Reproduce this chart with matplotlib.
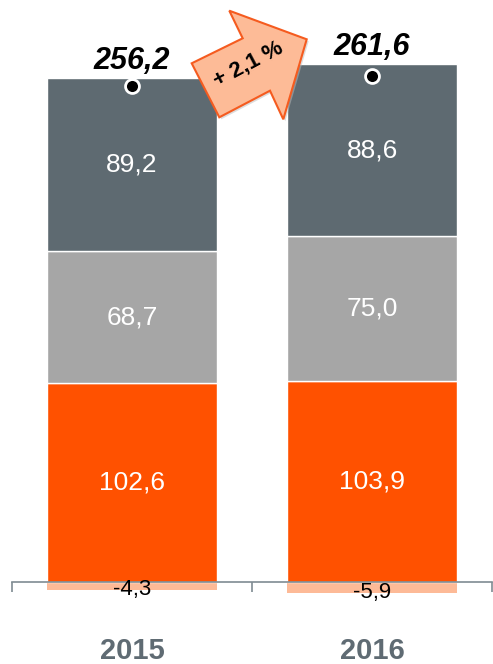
import matplotlib
matplotlib.use("Agg")
import matplotlib.pyplot as plt
from matplotlib.patches import Polygon
import numpy as np

years = ["2015", "2016"]
orange_vals = [102.6, 103.9]
lightgray_vals = [68.7, 75.0]
darkgray_vals = [89.2, 88.6]
negative_vals = [-4.3, -5.9]
totals = [256.2, 261.6]
growth_label = "+ 2,1 %"

C_DARK = "#5E6A71"
C_LIGHT = "#A6A6A6"
C_ORANGE = "#FF5100"
C_NEG = "#FDBA97"
C_AXIS = "#7F8B92"
C_YEAR = "#5F6B73"

plt.rcParams['font.family'] = ['Liberation Sans', 'DejaVu Sans']

W, H = 493, 664
fig = plt.figure(figsize=(W / 100, H / 100), dpi=100)
ax = fig.add_axes([12 / W, 0, 480 / W, 1])
scale = 1.935
ax.set_ylim(-(H - 582) / scale, 582 / scale)
ax.set_xlim(-0.5, 1.5)

x = np.arange(len(years))
bw = 0.708
ax.bar(x, orange_vals, bw, color=C_ORANGE, edgecolor="white", linewidth=1, zorder=2)
ax.bar(x, lightgray_vals, bw, bottom=orange_vals, color=C_LIGHT, edgecolor="white", linewidth=1, zorder=2)
bot2 = np.array(orange_vals) + np.array(lightgray_vals)
ax.bar(x, darkgray_vals, bw, bottom=bot2, color=C_DARK, edgecolor="white", linewidth=1, zorder=2)
ax.bar(x, negative_vals, bw, color=C_NEG, linewidth=0, zorder=1)

fs_seg = 19
for i in range(len(years)):
    ax.text(x[i], orange_vals[i] / 2, f"{orange_vals[i]:.1f}".replace(".", ","),
            ha="center", va="center", color="white", fontsize=fs_seg, zorder=5)
    ax.text(x[i], orange_vals[i] + lightgray_vals[i] / 2, f"{lightgray_vals[i]:.1f}".replace(".", ","),
            ha="center", va="center", color="white", fontsize=fs_seg, zorder=5)
    ax.text(x[i], bot2[i] + darkgray_vals[i] / 2, f"{darkgray_vals[i]:.1f}".replace(".", ","),
            ha="center", va="center", color="white", fontsize=fs_seg, zorder=5)
    ax.text(x[i], negative_vals[i] + 0.6, f"{negative_vals[i]:.1f}".replace(".", ","),
            ha="center", va="center", color="black", fontsize=16, zorder=5)
    ax.plot(x[i], totals[i], "o", ms=10, mfc="black", mec="white", mew=2, zorder=6)
    top = bot2[i] + darkgray_vals[i]
    ax.text(x[i], top + 9, f"{totals[i]:.1f}".replace(".", ","), ha="center", va="center",
            fontsize=22, fontweight="bold", fontstyle="italic", color="black", zorder=6)
    ax.text(x[i], -35.6, years[i], ha="center", va="center", fontsize=21,
            fontweight="bold", color=C_YEAR)

for s in ["top", "right", "left"]:
    ax.spines[s].set_visible(False)
ax.spines["bottom"].set_position(("data", 0))
ax.spines["bottom"].set_color(C_AXIS)
ax.spines["bottom"].set_linewidth(1.2)
ax.spines["bottom"].set_zorder(3)
ax.set_xticks([-0.5, 0.5, 1.5])
ax.set_xticklabels([])
ax.tick_params(axis="x", direction="out", length=7, width=1.2, color=C_AXIS)
ax.set_yticks([])

# growth arrow (figure pixel coordinates)
pts = [(191.7, 63.3), (219.3, 117.3), (270.0, 90.7), (283.3, 119.3),
       (306.7, 39.3), (229.3, 10.7), (242.7, 38.3)]
fpts = [(px / W, 1 - py / H) for px, py in pts]
shadow = [((px + 2) / W, 1 - (py + 2) / H) for px, py in pts]
fig.patches.append(Polygon(shadow, closed=True, transform=fig.transFigure,
                           facecolor="#bbbbbb", edgecolor="none", alpha=0.5, zorder=9))
fig.patches.append(Polygon(fpts, closed=True, transform=fig.transFigure,
                           facecolor="#FDBB97", edgecolor="#F55B1F", linewidth=1.5, zorder=10))
fig.text(248 / W, 1 - 64 / H, growth_label, rotation=28, ha="center", va="center",
         fontsize=16, fontweight="bold", color="black", zorder=11)

fig.savefig("out.png", dpi=100)
